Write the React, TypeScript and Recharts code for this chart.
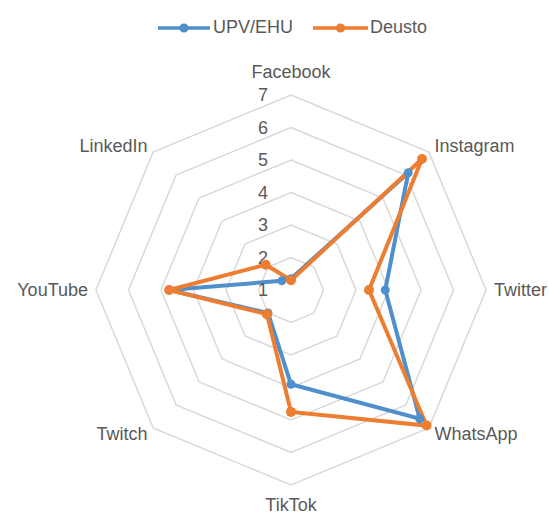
import { RadarChart, Radar, PolarGrid, PolarAngleAxis, PolarRadiusAxis } from 'recharts';

const categories = ['Facebook', 'Instagram', 'Twitter', 'WhatsApp', 'TikTok', 'Twitch', 'YouTube', 'LinkedIn'];
const upvEhu = [1.35, 6.1, 3.9, 6.6, 3.9, 2.0, 4.75, 1.4];
const deusto = [1.3, 6.7, 3.4, 6.9, 4.75, 2.05, 4.75, 2.1];
const radiusTicks = [1, 2, 3, 4, 5, 6, 7];

const data = categories.map((c, i) => ({ name: c, upv: upvEhu[i], deusto: deusto[i] }));

const BLUE = '#4f8fcc';
const ORANGE = '#ed7d31';
const TEXT = '#595959';
const FONT = '"Liberation Sans", Arial, sans-serif';
const FS = 18;

function AngleTick(props: any) {
  const { x, y, cx, cy, payload } = props;
  const dx = x - cx;
  const dy = y - cy;
  let anchor: 'start' | 'middle' | 'end' = 'middle';
  if (dx > 5) anchor = 'start';
  else if (dx < -5) anchor = 'end';
  let oy = 6;
  if (Math.abs(dx) < 5) oy = dy < 0 ? -9 : 18;
  return (
    <text x={x} y={y + oy} textAnchor={anchor} fill={TEXT} fontSize={FS} fontFamily={FONT}>
      {payload.value}
    </text>
  );
}

function RadiusTick(props: any) {
  const { x, y, payload } = props;
  return (
    <text x={x - 28} y={y + 6} textAnchor="middle" fill={TEXT} fontSize={FS} fontFamily={FONT}>
      {payload.value}
    </text>
  );
}

const makeDot = (color: string, r: number) => (p: any) =>
  <circle key={`${color}-${p.index}`} cx={p.cx} cy={p.cy} r={r} fill={color} stroke="none" />;

function LegendBar() {
  const item = (color: string, label: string, w: number, gap: number) => (
    <div style={{ display: 'flex', alignItems: 'center', marginRight: 20 }}>
      <svg width={w} height={12}>
        <line x1={0} y1={6} x2={w} y2={6} stroke={color} strokeWidth={3.5} />
        <circle cx={w / 2} cy={6} r={4.5} fill={color} />
      </svg>
      <span style={{ color: TEXT, fontSize: FS, fontFamily: FONT, marginLeft: gap }}>{label}</span>
    </div>
  );
  return (
    <div style={{ position: 'absolute', left: 158, top: 17, display: 'flex', alignItems: 'center' }}>
      {item(BLUE, 'UPV/EHU', 52, 3)}
      {item(ORANGE, 'Deusto', 55, 2)}
    </div>
  );
}

export default function App() {
  return (
    <div style={{ position: 'absolute', left: 0, top: 0, width: 549, height: 517, background: '#fff' }}>
      <LegendBar />
      <RadarChart width={549} height={517} data={data} cx={291} cy={290} outerRadius={195}>
        <PolarGrid gridType="polygon" radialLines={false} stroke="#d9d9d9" strokeWidth={1.5} />
        <PolarAngleAxis dataKey="name" tick={<AngleTick cx={291} cy={290} />} tickLine={false} axisLine={false} />
        <PolarRadiusAxis
          angle={90}
          domain={[1, 7]}
          ticks={radiusTicks as any}
          tickCount={7}
          axisLine={false}
          tick={<RadiusTick />}
        />
        <Radar
          dataKey="upv"
          name="UPV/EHU"
          stroke={BLUE}
          strokeWidth={4}
          fill="none"
          fillOpacity={0}
          dot={makeDot(BLUE, 4.5)}
          isAnimationActive={false}
        />
        <Radar
          dataKey="deusto"
          name="Deusto"
          stroke={ORANGE}
          strokeWidth={4}
          fill="none"
          fillOpacity={0}
          dot={makeDot(ORANGE, 5)}
          isAnimationActive={false}
        />
      </RadarChart>
    </div>
  );
}
